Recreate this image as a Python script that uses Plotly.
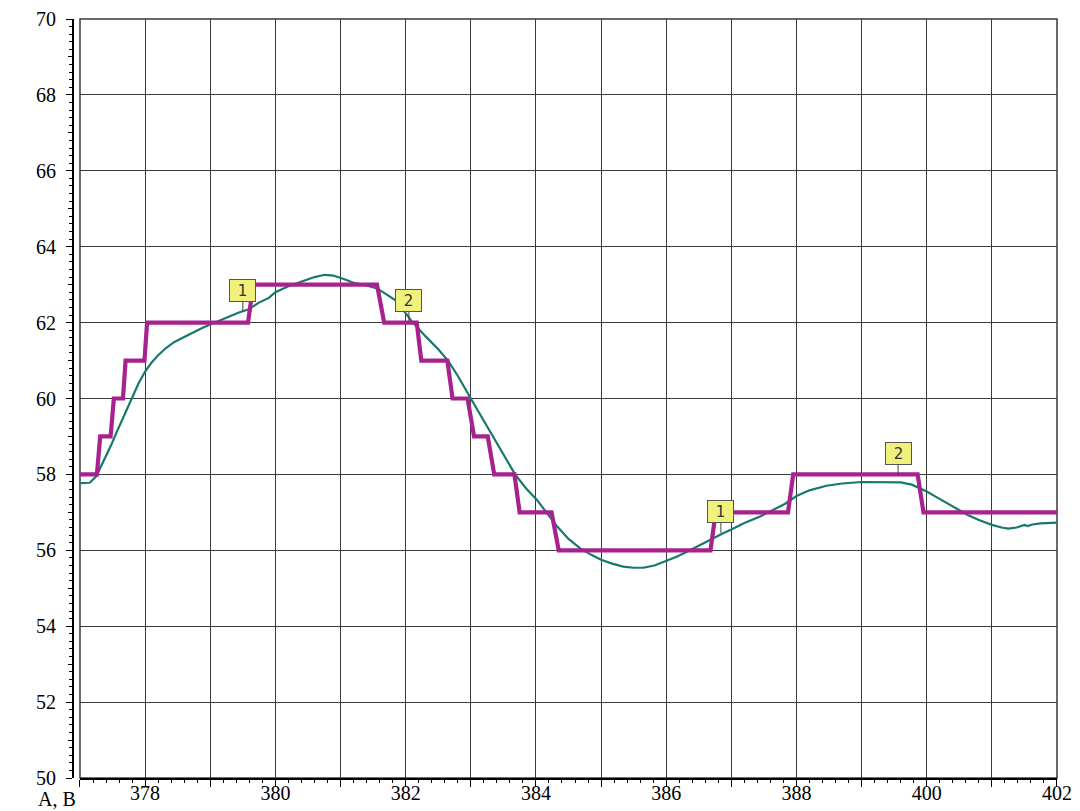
import plotly.graph_objects as go

# Stepped (quantised) signal A: level changes given as point pairs
step_x = [377.0, 377.26, 377.31, 377.47, 377.52, 377.66, 377.70, 377.99, 378.03,
          379.58, 379.66, 381.56, 381.67, 382.17, 382.24, 382.64, 382.72, 382.95,
          383.05, 383.26, 383.36, 383.67, 383.75, 384.24, 384.35, 386.68, 386.76,
          387.87, 387.95, 389.86, 389.95, 392.0]
step_y = [58, 58, 59, 59, 60, 60, 61, 61, 62,
          62, 63, 63, 62, 62, 61, 61, 60, 60,
          59, 59, 58, 58, 57, 57, 56, 56, 57,
          57, 58, 58, 57, 57]

# Smooth signal B
smooth_x = [377.0, 377.15, 377.25, 377.35, 377.47, 377.56, 377.65, 377.73, 377.81, 377.9,
            378.0, 378.1, 378.2, 378.32, 378.45, 378.6, 378.76, 378.9, 379.1, 379.28,
            379.43, 379.59, 379.74, 379.9, 380.0, 380.2, 380.42, 380.6, 380.76, 380.89,
            381.05, 381.2, 381.4, 381.56, 381.7, 381.85, 382.0, 382.1, 382.3, 382.5,
            382.65, 382.8, 383.0, 383.17, 383.34, 383.5, 383.68, 383.85, 384.01, 384.17,
            384.32, 384.5, 384.68, 384.85, 385.0, 385.17, 385.34, 385.5, 385.65, 385.82,
            386.0, 386.16, 386.32, 386.5, 386.68, 386.85, 387.0, 387.2, 387.45, 387.64,
            387.82, 388.0, 388.2, 388.46, 388.7, 389.0, 389.3, 389.6, 389.77, 389.9,
            390.0, 390.15, 390.27, 390.45, 390.63, 390.8, 391.0, 391.15, 391.25, 391.38,
            391.5, 391.55, 391.62, 391.75, 391.9, 392.0]
smooth_y = [57.77, 57.78, 57.95, 58.3, 58.74, 59.1, 59.44, 59.78, 60.05, 60.4,
            60.71, 60.95, 61.14, 61.33, 61.49, 61.63, 61.76, 61.88, 62.02, 62.15,
            62.26, 62.35, 62.52, 62.65, 62.8, 62.96, 63.1, 63.2, 63.26, 63.24,
            63.15, 63.05, 62.98, 62.9, 62.75, 62.58, 62.25, 62.02, 61.65, 61.3,
            61.0, 60.6, 60.0, 59.5, 59.0, 58.5, 58.0, 57.63, 57.34, 56.98,
            56.64, 56.3, 56.05, 55.88, 55.75, 55.65, 55.57, 55.54, 55.54, 55.6,
            55.72, 55.83, 55.96, 56.12, 56.29, 56.43, 56.55, 56.72, 56.9, 57.06,
            57.22, 57.43, 57.58, 57.7, 57.76, 57.8, 57.8, 57.79, 57.73, 57.64,
            57.55, 57.4, 57.28, 57.1, 56.93, 56.8, 56.67, 56.6, 56.57, 56.6,
            56.67, 56.64, 56.68, 56.71, 56.72, 56.73]

# Marker flags: label, position, and the point each flag points to
flag_text = ["1", "2", "1", "2"]
flag_x = [379.5, 382.05, 386.84, 389.56]
flag_y = [62.28, 62.02, 56.46, 58.0]

# Axis ticks and labels
x_ticks = list(range(377, 393))
x_labels = ["", "378", "", "380", "", "382", "", "384", "", "386", "", "388", "", "400", "", "402"]
y_ticks = list(range(50, 71, 2))
y_labels = [str(v) for v in y_ticks]
y_mid_ticks = list(range(51, 70, 2))

serif = "Times New Roman, Liberation Serif, serif"
tick_font = dict(family=serif, size=20, color="black")
grid_color = "#3a3a3a"

fig = go.Figure()
fig.add_trace(go.Scatter(x=smooth_x, y=smooth_y, mode="lines",
                         line=dict(color="#17786e", width=2.2), hoverinfo="skip"))
fig.add_trace(go.Scatter(x=step_x, y=step_y, mode="lines",
                         line=dict(color="#a8228f", width=4.2), hoverinfo="skip"))
# invisible trace so the secondary y axis (odd-integer ticks) is rendered
fig.add_trace(go.Scatter(x=[377], y=[50], yaxis="y2", mode="markers",
                         marker=dict(opacity=0), hoverinfo="skip"))

for t, x, y in zip(flag_text, flag_x, flag_y):
    fig.add_annotation(x=x, y=y, text=t, showarrow=True, arrowhead=0, arrowwidth=1,
                       arrowcolor="#444", ax=0, ay=-21, width=23, height=19,
                       bgcolor="#f0f07c", bordercolor="#555", borderwidth=1, borderpad=1,
                       font=dict(family="DejaVu Sans", size=15, color="#333"))

fig.add_annotation(x=-0.037, y=-0.044, xref="paper", yref="paper", text="A, B",
                   showarrow=False, xanchor="left", yanchor="bottom", borderpad=0,
                   font=tick_font)

fig.add_shape(type="rect", xref="x domain", yref="y domain", x0=0, x1=1, y0=0, y1=1,
              line=dict(color=grid_color, width=1.5), layer="below")

fig.update_layout(
    width=1080, height=811,
    margin=dict(l=73, r=23, t=19, b=33, autoexpand=False),
    paper_bgcolor="white", plot_bgcolor="white",
    showlegend=False,
    font=tick_font,
    xaxis=dict(range=[377, 392], domain=[0.0071, 1], anchor="y", automargin=False,
               tickmode="array", tickvals=x_ticks, ticktext=x_labels,
               tickfont=dict(family=serif, size=20, color="black"),
               ticks="outside", ticklen=7, tickwidth=1.2, tickcolor="black",
               showgrid=True, gridcolor=grid_color, gridwidth=1.2,
               showline=True, linecolor="black", linewidth=2.2, zeroline=False,
               minor=dict(dtick=0.2, tick0=377, ticks="outside", ticklen=3,
                          tickcolor="black", tickwidth=1, showgrid=False),
               ticklabelstandoff=-11),
    yaxis=dict(range=[50, 70], anchor="free", position=0, automargin=False,
               tickmode="array", tickvals=y_ticks, ticktext=y_labels,
               tickfont=dict(family=serif, size=20, color="black"),
               ticks="outside", ticklen=6, tickwidth=1.2, tickcolor="black",
               showgrid=True, gridcolor=grid_color, gridwidth=1.2,
               showline=True, linecolor="black", linewidth=2.2, zeroline=False,
               minor=dict(dtick=0.2, tick0=50, ticks="outside", ticklen=3,
                          tickcolor="black", tickwidth=1, showgrid=False),
               ticklabelstandoff=6),
    yaxis2=dict(range=[50, 70], overlaying="y", anchor="free", position=0,
                automargin=False,
                tickmode="array", tickvals=y_mid_ticks, ticks="outside", ticklen=5,
                tickwidth=1, tickcolor="black", showticklabels=False,
                showgrid=False, showline=False, zeroline=False),
)

fig.write_html("out.html")
